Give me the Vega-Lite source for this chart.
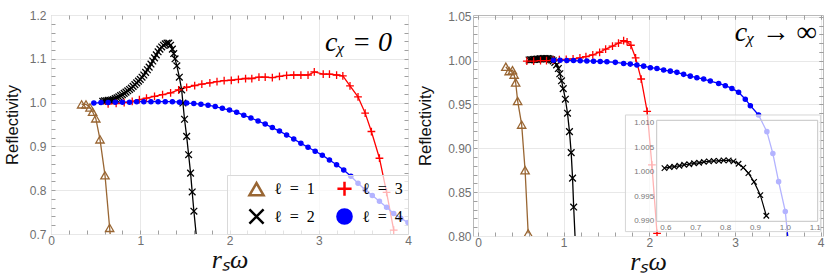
{
  "$schema": "https://vega.github.io/schema/vega-lite/v6.json",
  "padding": {"left": 3, "top": 8, "right": 0, "bottom": 0},
  "spacing": 5,
  "config": {
    "view": {"stroke": "#b9b9b9", "strokeWidth": 1},
    "axis": {"domain": false, "ticks": false, "grid": true, "gridColor": "#e8e8e8", "labelColor": "#6f6f6f", "labelFont": "Liberation Sans", "labelFontSize": 12, "labelFlush": false, "titleColor": "#111111", "titleFontWeight": "normal", "tickColor": "#a0a0a0", "tickWidth": 1},
    "legend": {"orient": "bottom-right", "offset": 0, "padding": 5, "fillColor": "rgba(255,255,255,0.7)", "strokeColor": "#d9d9d9", "columns": 2, "columnPadding": 5, "rowPadding": 3, "symbolSize": 200, "symbolOffset": 16, "symbolStrokeWidth": 2.5, "labelFont": "Liberation Serif", "labelFontStyle": "normal", "labelFontSize": 16, "labelColor": "#000000", "labelOffset": 9}
  },
  "datasets": {
    "left": [
      {"s":"ℓ = 1","x":0.343,"y":0.996},{"s":"ℓ = 1","x":0.392,"y":0.996},{"s":"ℓ = 1","x":0.437,"y":0.989},{"s":"ℓ = 1","x":0.466,"y":0.979},{"s":"ℓ = 1","x":0.502,"y":0.964},{"s":"ℓ = 1","x":0.549,"y":0.916},{"s":"ℓ = 1","x":0.605,"y":0.834},{"s":"ℓ = 1","x":0.657,"y":0.714},{"s":"ℓ = 1","x":0.68,"y":0.66},
      {"s":"ℓ = 2","x":0.58,"y":1.003},{"s":"ℓ = 2","x":0.6,"y":1.004},{"s":"ℓ = 2","x":0.62,"y":1.004},{"s":"ℓ = 2","x":0.64,"y":1.005},{"s":"ℓ = 2","x":0.66,"y":1.005},{"s":"ℓ = 2","x":0.68,"y":1.006},{"s":"ℓ = 2","x":0.7,"y":1.007},{"s":"ℓ = 2","x":0.72,"y":1.009},{"s":"ℓ = 2","x":0.74,"y":1.011},{"s":"ℓ = 2","x":0.76,"y":1.013},{"s":"ℓ = 2","x":0.78,"y":1.016},{"s":"ℓ = 2","x":0.8,"y":1.018},{"s":"ℓ = 2","x":0.82,"y":1.021},{"s":"ℓ = 2","x":0.84,"y":1.024},{"s":"ℓ = 2","x":0.86,"y":1.027},{"s":"ℓ = 2","x":0.88,"y":1.03},{"s":"ℓ = 2","x":0.9,"y":1.033},{"s":"ℓ = 2","x":0.92,"y":1.037},{"s":"ℓ = 2","x":0.94,"y":1.041},{"s":"ℓ = 2","x":0.96,"y":1.045},{"s":"ℓ = 2","x":0.98,"y":1.049},{"s":"ℓ = 2","x":1.0,"y":1.053},{"s":"ℓ = 2","x":1.02,"y":1.058},{"s":"ℓ = 2","x":1.04,"y":1.063},{"s":"ℓ = 2","x":1.06,"y":1.069},{"s":"ℓ = 2","x":1.08,"y":1.075},{"s":"ℓ = 2","x":1.1,"y":1.081},{"s":"ℓ = 2","x":1.12,"y":1.088},{"s":"ℓ = 2","x":1.14,"y":1.095},{"s":"ℓ = 2","x":1.16,"y":1.102},{"s":"ℓ = 2","x":1.18,"y":1.109},{"s":"ℓ = 2","x":1.2,"y":1.116},{"s":"ℓ = 2","x":1.22,"y":1.122},{"s":"ℓ = 2","x":1.24,"y":1.127},{"s":"ℓ = 2","x":1.26,"y":1.131},{"s":"ℓ = 2","x":1.28,"y":1.134},{"s":"ℓ = 2","x":1.3,"y":1.136},{"s":"ℓ = 2","x":1.32,"y":1.136},{"s":"ℓ = 2","x":1.34,"y":1.131},{"s":"ℓ = 2","x":1.36,"y":1.122},{"s":"ℓ = 2","x":1.375,"y":1.112},{"s":"ℓ = 2","x":1.39,"y":1.1},{"s":"ℓ = 2","x":1.41,"y":1.084},{"s":"ℓ = 2","x":1.438,"y":1.058},{"s":"ℓ = 2","x":1.464,"y":1.029},{"s":"ℓ = 2","x":1.478,"y":0.999},{"s":"ℓ = 2","x":1.496,"y":0.962},{"s":"ℓ = 2","x":1.52,"y":0.923},{"s":"ℓ = 2","x":1.542,"y":0.881},{"s":"ℓ = 2","x":1.564,"y":0.839},{"s":"ℓ = 2","x":1.582,"y":0.796},{"s":"ℓ = 2","x":1.601,"y":0.752},{"s":"ℓ = 2","x":1.636,"y":0.68},
      {"s":"ℓ = 3","x":0.64,"y":0.997},{"s":"ℓ = 3","x":0.73,"y":0.998},{"s":"ℓ = 3","x":0.82,"y":1.0},{"s":"ℓ = 3","x":0.91,"y":1.003},{"s":"ℓ = 3","x":0.99,"y":1.007},{"s":"ℓ = 3","x":1.07,"y":1.01},{"s":"ℓ = 3","x":1.16,"y":1.014},{"s":"ℓ = 3","x":1.25,"y":1.018},{"s":"ℓ = 3","x":1.34,"y":1.022},{"s":"ℓ = 3","x":1.43,"y":1.029},{"s":"ℓ = 3","x":1.52,"y":1.035},{"s":"ℓ = 3","x":1.61,"y":1.039},{"s":"ℓ = 3","x":1.69,"y":1.042},{"s":"ℓ = 3","x":1.78,"y":1.045},{"s":"ℓ = 3","x":1.86,"y":1.048},{"s":"ℓ = 3","x":1.94,"y":1.05},{"s":"ℓ = 3","x":2.02,"y":1.051},{"s":"ℓ = 3","x":2.1,"y":1.053},{"s":"ℓ = 3","x":2.18,"y":1.055},{"s":"ℓ = 3","x":2.25,"y":1.055},{"s":"ℓ = 3","x":2.33,"y":1.058},{"s":"ℓ = 3","x":2.4,"y":1.058},{"s":"ℓ = 3","x":2.48,"y":1.057},{"s":"ℓ = 3","x":2.56,"y":1.06},{"s":"ℓ = 3","x":2.64,"y":1.062},{"s":"ℓ = 3","x":2.72,"y":1.063},{"s":"ℓ = 3","x":2.8,"y":1.063},{"s":"ℓ = 3","x":2.88,"y":1.063},{"s":"ℓ = 3","x":2.95,"y":1.07},{"s":"ℓ = 3","x":3.05,"y":1.065},{"s":"ℓ = 3","x":3.12,"y":1.065},{"s":"ℓ = 3","x":3.2,"y":1.063},{"s":"ℓ = 3","x":3.27,"y":1.061},{"s":"ℓ = 3","x":3.35,"y":1.038},{"s":"ℓ = 3","x":3.44,"y":1.013},{"s":"ℓ = 3","x":3.52,"y":0.976},{"s":"ℓ = 3","x":3.59,"y":0.934},{"s":"ℓ = 3","x":3.68,"y":0.873},{"s":"ℓ = 3","x":3.76,"y":0.795},{"s":"ℓ = 3","x":3.84,"y":0.709},
      {"s":"ℓ = 4","x":0.48,"y":0.999},{"s":"ℓ = 4","x":0.56,"y":1.0},{"s":"ℓ = 4","x":0.64,"y":1.0},{"s":"ℓ = 4","x":0.72,"y":1.001},{"s":"ℓ = 4","x":0.8,"y":1.001},{"s":"ℓ = 4","x":0.88,"y":1.001},{"s":"ℓ = 4","x":0.96,"y":1.002},{"s":"ℓ = 4","x":1.04,"y":1.002},{"s":"ℓ = 4","x":1.12,"y":1.002},{"s":"ℓ = 4","x":1.2,"y":1.002},{"s":"ℓ = 4","x":1.28,"y":1.002},{"s":"ℓ = 4","x":1.36,"y":1.002},{"s":"ℓ = 4","x":1.44,"y":1.001},{"s":"ℓ = 4","x":1.52,"y":0.999},{"s":"ℓ = 4","x":1.6,"y":0.998},{"s":"ℓ = 4","x":1.68,"y":0.996},{"s":"ℓ = 4","x":1.76,"y":0.994},{"s":"ℓ = 4","x":1.84,"y":0.991},{"s":"ℓ = 4","x":1.92,"y":0.987},{"s":"ℓ = 4","x":2.0,"y":0.983},{"s":"ℓ = 4","x":2.08,"y":0.978},{"s":"ℓ = 4","x":2.16,"y":0.971},{"s":"ℓ = 4","x":2.24,"y":0.965},{"s":"ℓ = 4","x":2.32,"y":0.958},{"s":"ℓ = 4","x":2.4,"y":0.951},{"s":"ℓ = 4","x":2.48,"y":0.943},{"s":"ℓ = 4","x":2.56,"y":0.935},{"s":"ℓ = 4","x":2.64,"y":0.926},{"s":"ℓ = 4","x":2.72,"y":0.917},{"s":"ℓ = 4","x":2.8,"y":0.907},{"s":"ℓ = 4","x":2.88,"y":0.898},{"s":"ℓ = 4","x":2.96,"y":0.889},{"s":"ℓ = 4","x":3.04,"y":0.88},{"s":"ℓ = 4","x":3.12,"y":0.869},{"s":"ℓ = 4","x":3.2,"y":0.858},{"s":"ℓ = 4","x":3.28,"y":0.846},{"s":"ℓ = 4","x":3.36,"y":0.832},{"s":"ℓ = 4","x":3.44,"y":0.816},{"s":"ℓ = 4","x":3.52,"y":0.801},{"s":"ℓ = 4","x":3.6,"y":0.788},{"s":"ℓ = 4","x":3.68,"y":0.775},{"s":"ℓ = 4","x":3.76,"y":0.761},{"s":"ℓ = 4","x":3.84,"y":0.747},{"s":"ℓ = 4","x":3.92,"y":0.736},{"s":"ℓ = 4","x":4.0,"y":0.726}
    ],
    "right": [
      {"s":"ℓ = 1","x":0.325,"y":0.993},{"s":"ℓ = 1","x":0.364,"y":0.988},{"s":"ℓ = 1","x":0.403,"y":0.989},{"s":"ℓ = 1","x":0.422,"y":0.984},{"s":"ℓ = 1","x":0.44,"y":0.975},{"s":"ℓ = 1","x":0.463,"y":0.954},{"s":"ℓ = 1","x":0.51,"y":0.927},{"s":"ℓ = 1","x":0.55,"y":0.875},{"s":"ℓ = 1","x":0.586,"y":0.803},
      {"s":"ℓ = 2","x":0.597,"y":1.0007},{"s":"ℓ = 2","x":0.614,"y":1.0009},{"s":"ℓ = 2","x":0.63,"y":1.001},{"s":"ℓ = 2","x":0.647,"y":1.0012},{"s":"ℓ = 2","x":0.663,"y":1.0014},{"s":"ℓ = 2","x":0.68,"y":1.0015},{"s":"ℓ = 2","x":0.696,"y":1.0017},{"s":"ℓ = 2","x":0.713,"y":1.0018},{"s":"ℓ = 2","x":0.729,"y":1.002},{"s":"ℓ = 2","x":0.746,"y":1.0021},{"s":"ℓ = 2","x":0.762,"y":1.0022},{"s":"ℓ = 2","x":0.779,"y":1.0022},{"s":"ℓ = 2","x":0.795,"y":1.0023},{"s":"ℓ = 2","x":0.812,"y":1.0023},{"s":"ℓ = 2","x":0.828,"y":1.0021},{"s":"ℓ = 2","x":0.845,"y":1.0016},{"s":"ℓ = 2","x":0.861,"y":1.0008},{"s":"ℓ = 2","x":0.878,"y":0.9997},{"s":"ℓ = 2","x":0.897,"y":0.9979},{"s":"ℓ = 2","x":0.918,"y":0.9952},{"s":"ℓ = 2","x":0.938,"y":0.991},{"s":"ℓ = 2","x":0.955,"y":0.985},{"s":"ℓ = 2","x":0.975,"y":0.977},{"s":"ℓ = 2","x":0.995,"y":0.968},{"s":"ℓ = 2","x":1.02,"y":0.956},{"s":"ℓ = 2","x":1.045,"y":0.94},{"s":"ℓ = 2","x":1.068,"y":0.919},{"s":"ℓ = 2","x":1.088,"y":0.895},{"s":"ℓ = 2","x":1.104,"y":0.866},{"s":"ℓ = 2","x":1.117,"y":0.833},{"s":"ℓ = 2","x":1.14,"y":0.785},
      {"s":"ℓ = 3","x":0.57,"y":0.9995},{"s":"ℓ = 3","x":0.65,"y":0.9995},{"s":"ℓ = 3","x":0.73,"y":1.0},{"s":"ℓ = 3","x":0.8,"y":1.0},{"s":"ℓ = 3","x":0.88,"y":1.0005},{"s":"ℓ = 3","x":0.95,"y":1.001},{"s":"ℓ = 3","x":1.03,"y":1.0013},{"s":"ℓ = 3","x":1.11,"y":1.002},{"s":"ℓ = 3","x":1.19,"y":1.003},{"s":"ℓ = 3","x":1.26,"y":1.0045},{"s":"ℓ = 3","x":1.34,"y":1.0065},{"s":"ℓ = 3","x":1.42,"y":1.0095},{"s":"ℓ = 3","x":1.49,"y":1.013},{"s":"ℓ = 3","x":1.57,"y":1.0165},{"s":"ℓ = 3","x":1.64,"y":1.02},{"s":"ℓ = 3","x":1.7,"y":1.0228},{"s":"ℓ = 3","x":1.74,"y":1.0215},{"s":"ℓ = 3","x":1.785,"y":1.0175},{"s":"ℓ = 3","x":1.84,"y":1.003},{"s":"ℓ = 3","x":1.905,"y":0.979},{"s":"ℓ = 3","x":1.975,"y":0.942},{"s":"ℓ = 3","x":2.03,"y":0.881},{"s":"ℓ = 3","x":2.09,"y":0.803},
      {"s":"ℓ = 4","x":0.881,"y":1.0004},{"s":"ℓ = 4","x":0.959,"y":1.0003},{"s":"ℓ = 4","x":1.037,"y":1.0002},{"s":"ℓ = 4","x":1.115,"y":1.0},{"s":"ℓ = 4","x":1.193,"y":0.9998},{"s":"ℓ = 4","x":1.271,"y":0.9996},{"s":"ℓ = 4","x":1.349,"y":0.9993},{"s":"ℓ = 4","x":1.427,"y":0.999},{"s":"ℓ = 4","x":1.505,"y":0.9987},{"s":"ℓ = 4","x":1.603,"y":0.998},{"s":"ℓ = 4","x":1.7,"y":0.9968},{"s":"ℓ = 4","x":1.778,"y":0.996},{"s":"ℓ = 4","x":1.855,"y":0.9949},{"s":"ℓ = 4","x":1.934,"y":0.9937},{"s":"ℓ = 4","x":2.012,"y":0.9919},{"s":"ℓ = 4","x":2.089,"y":0.9911},{"s":"ℓ = 4","x":2.167,"y":0.9892},{"s":"ℓ = 4","x":2.245,"y":0.988},{"s":"ℓ = 4","x":2.322,"y":0.9866},{"s":"ℓ = 4","x":2.4,"y":0.9843},{"s":"ℓ = 4","x":2.478,"y":0.9823},{"s":"ℓ = 4","x":2.555,"y":0.9805},{"s":"ℓ = 4","x":2.634,"y":0.979},{"s":"ℓ = 4","x":2.712,"y":0.9767},{"s":"ℓ = 4","x":2.809,"y":0.974},{"s":"ℓ = 4","x":2.887,"y":0.9714},{"s":"ℓ = 4","x":2.964,"y":0.9683},{"s":"ℓ = 4","x":3.042,"y":0.9638},{"s":"ℓ = 4","x":3.12,"y":0.956},{"s":"ℓ = 4","x":3.179,"y":0.9486},{"s":"ℓ = 4","x":3.275,"y":0.938},{"s":"ℓ = 4","x":3.372,"y":0.919},{"s":"ℓ = 4","x":3.442,"y":0.894},{"s":"ℓ = 4","x":3.509,"y":0.862},{"s":"ℓ = 4","x":3.587,"y":0.828},{"s":"ℓ = 4","x":3.64,"y":0.775}
    ],
    "inset": [
      {"s":"ℓ = 2","x":0.597,"y":1.0007},{"s":"ℓ = 2","x":0.614,"y":1.0009},{"s":"ℓ = 2","x":0.63,"y":1.001},{"s":"ℓ = 2","x":0.647,"y":1.0012},{"s":"ℓ = 2","x":0.663,"y":1.0014},{"s":"ℓ = 2","x":0.68,"y":1.0015},{"s":"ℓ = 2","x":0.696,"y":1.0017},{"s":"ℓ = 2","x":0.713,"y":1.0018},{"s":"ℓ = 2","x":0.729,"y":1.002},{"s":"ℓ = 2","x":0.746,"y":1.0021},{"s":"ℓ = 2","x":0.762,"y":1.0022},{"s":"ℓ = 2","x":0.779,"y":1.0022},{"s":"ℓ = 2","x":0.795,"y":1.0023},{"s":"ℓ = 2","x":0.812,"y":1.0023},{"s":"ℓ = 2","x":0.828,"y":1.0021},{"s":"ℓ = 2","x":0.845,"y":1.0016},{"s":"ℓ = 2","x":0.861,"y":1.0008},{"s":"ℓ = 2","x":0.878,"y":0.9997},{"s":"ℓ = 2","x":0.897,"y":0.9979},{"s":"ℓ = 2","x":0.918,"y":0.9952},{"s":"ℓ = 2","x":0.938,"y":0.991}
    ]
  },
  "resolve": {"scale": {"color": "independent", "shape": "independent", "stroke": "independent", "fill": "independent", "size": "independent"}},
  "hconcat": [
    {
      "width": 357, "height": 219,
      "data": {"name": "left"},
      "resolve": {"axis": {"x": "independent", "y": "independent"}},
      "layer": [
        {
          "mark": {"type": "line", "clip": true, "strokeWidth": 1.3},
          "encoding": {
            "x": {"field": "x", "type": "quantitative", "scale": {"domain": [0, 4], "nice": false, "zero": false}, "axis": {"orient": "bottom", "values": [0, 1, 2, 3, 4], "format": "d", "title": "rₛω", "titleFont": "Liberation Serif", "titleFontStyle": "italic", "titleFontSize": 26, "labelPadding": 1, "titlePadding": 0}},
            "y": {"field": "y", "type": "quantitative", "scale": {"domain": [0.7, 1.2], "nice": false, "zero": false}, "axis": {"orient": "left", "values": [0.7, 0.8, 0.9, 1.0, 1.1, 1.2], "format": ".1f", "title": "Reflectivity", "titleFont": "Liberation Sans", "titleFontSize": 16.5, "labelPadding": 5, "titlePadding": 9}},
            "color": {"field": "s", "type": "nominal", "scale": {"domain": ["ℓ = 4", "ℓ = 3", "ℓ = 2", "ℓ = 1"], "range": ["#0000ff", "#ff0000", "#000000", "#996633"]}, "legend": null}
          }
        },
        {
          "mark": {"type": "point", "clip": true, "filled": true, "opacity": 1, "strokeWidth": 1.3},
          "encoding": {
            "x": {"field": "x", "type": "quantitative", "scale": {"domain": [0, 4], "nice": false, "zero": false}, "axis": {"orient": "top", "offset": -219, "values": [0.2,0.4,0.6,0.8,1,1.2,1.4,1.6,1.8,2,2.2,2.4,2.6,2.8,3,3.2,3.4,3.6,3.8], "labels": false, "grid": false, "ticks": true, "tickSize": 4, "title": null}},
            "y": {"field": "y", "type": "quantitative", "scale": {"domain": [0.7, 1.2], "nice": false, "zero": false}, "axis": {"orient": "right", "offset": -357, "values": [0.72,0.74,0.76,0.78,0.8,0.82,0.84,0.86,0.88,0.9,0.92,0.94,0.96,0.98,1,1.02,1.04,1.06,1.08,1.1,1.12,1.14,1.16,1.18], "labels": false, "grid": false, "ticks": true, "tickSize": 4, "title": null}},
            "shape": {"field": "s", "type": "nominal", "scale": {"domain": ["ℓ = 1", "ℓ = 2", "ℓ = 3", "ℓ = 4"], "range": ["triangle-up", "M-1,-1L1,1M-1,1L1,-1", "M-1,0L1,0M0,-1L0,1", "circle"]}, "legend": {"title": null, "labelExpr": "replace(datum.label, ' = ', '\u2002=\u2002')"}},
            "stroke": {"field": "s", "type": "nominal", "scale": {"domain": ["ℓ = 1", "ℓ = 2", "ℓ = 3", "ℓ = 4"], "range": ["#996633", "#000000", "#ff0000", "#0000ff"]}, "legend": {"title": null, "labelExpr": "replace(datum.label, ' = ', '\u2002=\u2002')"}},
            "fill": {"field": "s", "type": "nominal", "scale": {"domain": ["ℓ = 1", "ℓ = 2", "ℓ = 3", "ℓ = 4"], "range": ["transparent", "transparent", "transparent", "#0000ff"]}, "legend": {"title": null, "labelExpr": "replace(datum.label, ' = ', '\u2002=\u2002')"}},
            "size": {"field": "s", "type": "nominal", "scale": {"type": "ordinal", "domain": ["ℓ = 4", "ℓ = 3", "ℓ = 2", "ℓ = 1"], "range": [18, 60, 45, 70]}, "legend": null}
          }
        },
        {
          "data": {"values": [{}]},
          "mark": {"type": "text", "text": "cᵪ = 0", "font": "Liberation Serif", "fontStyle": "italic", "fontSize": 28, "align": "right", "baseline": "middle", "color": "#000000"},
          "encoding": {
            "x": {"datum": 3.82, "type": "quantitative", "scale": {"domain": [0, 4], "nice": false, "zero": false}, "axis": {"orient": "bottom", "offset": -219, "values": [0.2,0.4,0.6,0.8,1,1.2,1.4,1.6,1.8,2,2.2,2.4,2.6,2.8,3,3.2,3.4,3.6,3.8], "labels": false, "grid": false, "ticks": true, "tickSize": 4, "title": null}},
            "y": {"datum": 1.136, "type": "quantitative", "scale": {"domain": [0.7, 1.2], "nice": false, "zero": false}, "axis": {"orient": "left", "offset": -357, "values": [0.72,0.74,0.76,0.78,0.8,0.82,0.84,0.86,0.88,0.9,0.92,0.94,0.96,0.98,1,1.02,1.04,1.06,1.08,1.1,1.12,1.14,1.16,1.18], "labels": false, "grid": false, "ticks": true, "tickSize": 4, "title": null}}
          }
        }
      ]
    },
    {
      "width": 350, "height": 221,
      "resolve": {"scale": {"x": "independent", "y": "independent"}, "axis": {"x": "independent", "y": "independent"}},
      "layer": [
        {
          "data": {"name": "right"},
          "resolve": {"axis": {"x": "independent", "y": "independent"}},
          "layer": [
            {
              "mark": {"type": "line", "clip": true, "strokeWidth": 1.3},
              "encoding": {
                "x": {"field": "x", "type": "quantitative", "scale": {"domain": [-0.058, 4.027], "nice": false, "zero": false}, "axis": {"orient": "bottom", "values": [0, 1, 2, 3, 4], "format": "d", "title": "rₛω", "titleFont": "Liberation Serif", "titleFontStyle": "italic", "titleFontSize": 26, "labelPadding": 1, "titlePadding": 0}},
                "y": {"field": "y", "type": "quantitative", "scale": {"domain": [0.8, 1.052], "nice": false, "zero": false}, "axis": {"orient": "left", "values": [0.8, 0.85, 0.9, 0.95, 1.0, 1.05], "format": ".2f", "title": "Reflectivity", "titleFont": "Liberation Sans", "titleFontSize": 16.5, "labelPadding": 2, "titlePadding": 14}},
                "color": {"field": "s", "type": "nominal", "scale": {"domain": ["ℓ = 4", "ℓ = 3", "ℓ = 2", "ℓ = 1"], "range": ["#0000ff", "#ff0000", "#000000", "#996633"]}, "legend": null}
              }
            },
            {
              "mark": {"type": "point", "clip": true, "filled": true, "opacity": 1, "strokeWidth": 1.3},
              "encoding": {
                "x": {"field": "x", "type": "quantitative", "scale": {"domain": [-0.058, 4.027], "nice": false, "zero": false}, "axis": {"orient": "top", "offset": -221, "values": [0,0.2,0.4,0.6,0.8,1,1.2,1.4,1.6,1.8,2,2.2,2.4,2.6,2.8,3,3.2,3.4,3.6,3.8,4], "labels": false, "grid": false, "ticks": true, "tickSize": 4, "title": null}},
                "y": {"field": "y", "type": "quantitative", "scale": {"domain": [0.8, 1.052], "nice": false, "zero": false}, "axis": {"orient": "right", "offset": -350, "values": [0.81,0.82,0.83,0.84,0.85,0.86,0.87,0.88,0.89,0.9,0.91,0.92,0.93,0.94,0.95,0.96,0.97,0.98,0.99,1,1.01,1.02,1.03,1.04,1.05], "labels": false, "grid": false, "ticks": true, "tickSize": 4, "title": null}},
                "shape": {"field": "s", "type": "nominal", "scale": {"domain": ["ℓ = 1", "ℓ = 2", "ℓ = 3", "ℓ = 4"], "range": ["triangle-up", "M-1,-1L1,1M-1,1L1,-1", "M-1,0L1,0M0,-1L0,1", "circle"]}, "legend": null},
                "stroke": {"field": "s", "type": "nominal", "scale": {"domain": ["ℓ = 1", "ℓ = 2", "ℓ = 3", "ℓ = 4"], "range": ["#996633", "#000000", "#ff0000", "#0000ff"]}, "legend": null},
                "fill": {"field": "s", "type": "nominal", "scale": {"domain": ["ℓ = 1", "ℓ = 2", "ℓ = 3", "ℓ = 4"], "range": ["transparent", "transparent", "transparent", "#0000ff"]}, "legend": null},
                "size": {"field": "s", "type": "nominal", "scale": {"type": "ordinal", "domain": ["ℓ = 4", "ℓ = 3", "ℓ = 2", "ℓ = 1"], "range": [18, 60, 45, 70]}, "legend": null}
              }
            },
            {
              "data": {"values": [{}]},
              "mark": {"type": "text", "text": "cᵪ → ∞", "font": "Liberation Serif", "fontStyle": "italic", "fontSize": 28, "align": "right", "baseline": "middle", "color": "#000000"},
              "encoding": {
                "x": {"datum": 3.953, "type": "quantitative", "scale": {"domain": [-0.058, 4.027], "nice": false, "zero": false}, "axis": {"orient": "bottom", "offset": -221, "values": [0,0.2,0.4,0.6,0.8,1,1.2,1.4,1.6,1.8,2,2.2,2.4,2.6,2.8,3,3.2,3.4,3.6,3.8,4], "labels": false, "grid": false, "ticks": true, "tickSize": 4, "title": null}},
                "y": {"datum": 1.031, "type": "quantitative", "scale": {"domain": [0.8, 1.052], "nice": false, "zero": false}, "axis": {"orient": "left", "offset": -350, "values": [0.81,0.82,0.83,0.84,0.85,0.86,0.87,0.88,0.89,0.9,0.91,0.92,0.93,0.94,0.95,0.96,0.97,0.98,0.99,1,1.01,1.02,1.03,1.04,1.05], "labels": false, "grid": false, "ticks": true, "tickSize": 4, "title": null}}
              }
            },
            {
              "data": {"values": [{}]},
              "mark": {"type": "rect", "fill": "#ffffff", "fillOpacity": 0.7, "stroke": "#d5d5d5", "strokeWidth": 1},
              "encoding": {
                "x": {"datum": 1.721, "type": "quantitative", "scale": {"domain": [-0.058, 4.027], "nice": false, "zero": false}, "axis": {"orient": "bottom", "offset": -221, "values": [0,0.2,0.4,0.6,0.8,1,1.2,1.4,1.6,1.8,2,2.2,2.4,2.6,2.8,3,3.2,3.4,3.6,3.8,4], "labels": false, "grid": false, "ticks": true, "tickSize": 4, "title": null}},
                "x2": {"datum": 3.997},
                "y": {"datum": 0.938, "type": "quantitative", "scale": {"domain": [0.8, 1.052], "nice": false, "zero": false}, "axis": {"orient": "left", "offset": -350, "values": [0.81,0.82,0.83,0.84,0.85,0.86,0.87,0.88,0.89,0.9,0.91,0.92,0.93,0.94,0.95,0.96,0.97,0.98,0.99,1,1.01,1.02,1.03,1.04,1.05], "labels": false, "grid": false, "ticks": true, "tickSize": 4, "title": null}},
                "y2": {"datum": 0.805}
              }
            }
          ]
        },
        {
          "data": {"name": "inset"},
          "layer": [
            {
              "data": {"values": [{}]},
              "mark": {"type": "rect", "fillOpacity": 0, "fill": "#ffffff", "stroke": "#c4c4c4", "strokeWidth": 1},
              "encoding": {
                "x": {"datum": 0.571, "type": "quantitative", "scale": {"domain": [0.571, 1.11], "range": [183.7, 344.7], "nice": false, "zero": false}, "axis": {"orient": "top", "offset": -206.3, "zindex": 1, "values": [0.6, 0.7, 0.8, 0.9, 1.0, 1.1], "labels": false, "title": null, "gridColor": "#e6e6e6"}},
                "x2": {"datum": 1.11},
                "y": {"datum": 0.98986, "type": "quantitative", "scale": {"domain": [0.98986, 1.01047], "range": [206.3, 105.3], "nice": false, "zero": false}, "axis": {"orient": "left", "offset": -183.7, "zindex": 1, "values": [0.99, 0.995, 1.0, 1.005, 1.01], "format": ".3f", "title": null, "labelFontSize": 8, "labelColor": "#777777", "labelPadding": 3, "gridColor": "#e6e6e6"}},
                "y2": {"datum": 1.01047}
              }
            },
            {
              "mark": {"type": "line", "strokeWidth": 1.2, "color": "#000000", "point": {"shape": "M-1,-1L1,1M-1,1L1,-1", "size": 30, "stroke": "#000000", "strokeWidth": 1.2, "opacity": 1, "filled": false}},
              "encoding": {
                "x": {"field": "x", "type": "quantitative", "scale": {"domain": [0.571, 1.11], "range": [183.7, 344.7], "nice": false, "zero": false}, "axis": {"orient": "bottom", "offset": -14.7, "zindex": 1, "grid": false, "values": [0.6, 0.7, 0.8, 0.9, 1.0, 1.1], "format": ".1f", "title": null, "labelFontSize": 8, "labelColor": "#777777", "labelPadding": 2}},
                "y": {"field": "y", "type": "quantitative", "scale": {"domain": [0.98986, 1.01047], "range": [206.3, 105.3], "nice": false, "zero": false}}
              }
            }
          ]
        }
      ]
    }
  ]
}
